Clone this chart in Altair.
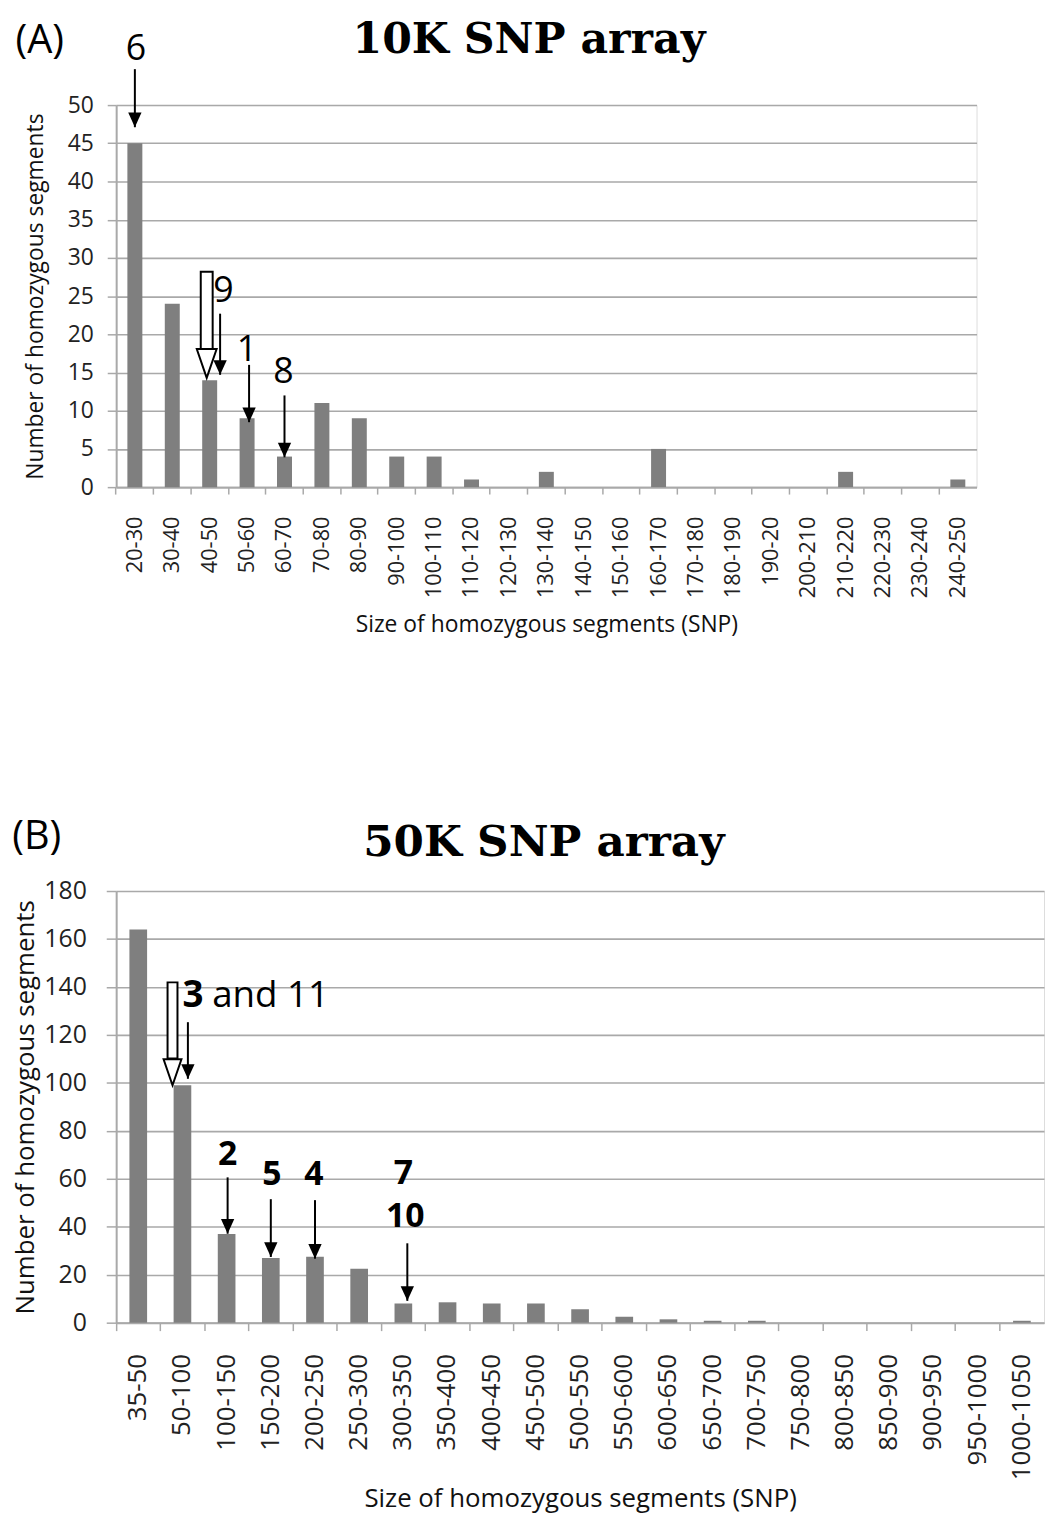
import altair as alt
import pandas as pd

# ---------------- data: panel A (10K SNP array) ----------------
a_cats = ["20-30", "30-40", "40-50", "50-60", "60-70", "70-80", "80-90", "90-100",
          "100-110", "110-120", "120-130", "130-140", "140-150", "150-160", "160-170",
          "170-180", "180-190", "190-20", "200-210", "210-220", "220-230", "230-240",
          "240-250"]
a_vals = [45, 24, 14, 9, 4, 11, 9, 4, 4, 1, 0, 2, 0, 0, 5, 0, 0, 0, 0, 2, 0, 0, 1]

# arrows (solid) : category, top value, tip value, pixel shift
a_arrow_cat = ["20-30", "40-50", "50-60", "60-70"]
a_arrow_top = [54.7, 22.7, 16.0, 12.0]
a_arrow_tip = [47.1, 14.7, 8.5, 3.9]
a_arrow_dx = [0, 10.5, 2, 0]
# hollow arrow
a_hollow_cat = ["40-50"]
a_hollow_top = [28.2]
a_hollow_base = [18.0]
a_hollow_tip = [14.3]
a_hollow_dx = -3
# labels
a_lab_text = ["6", "9", "1", "8"]
a_lab_cat = ["20-30", "40-50", "50-60", "60-70"]
a_lab_y = [57.3, 25.6, 18.0, 15.0]
a_lab_dx = [1, 14, 0, -1]

# ---------------- data: panel B (50K SNP array) ----------------
b_cats = ["35-50", "50-100", "100-150", "150-200", "200-250", "250-300", "300-350",
          "350-400", "400-450", "450-500", "500-550", "550-600", "600-650", "650-700",
          "700-750", "750-800", "800-850", "850-900", "900-950", "950-1000", "1000-1050"]
b_vals = [164, 99, 37, 27, 27.5, 22.5, 8, 8.5, 8, 8, 5.6, 2.5, 1.4, 0.8, 0.8,
          0, 0, 0, 0, 0, 0.8]

b_arrow_cat = ["50-100", "100-150", "150-200", "200-250", "300-350"]
b_arrow_top = [125.3, 60.6, 51.5, 51.1, 33.1]
b_arrow_tip = [101.7, 37.1, 27.4, 26.7, 9.1]
b_arrow_dx = [5.5, 1, 0, 0, 4]
b_hollow_cat = ["50-100"]
b_hollow_top = [141.9]
b_hollow_base = [110.2]
b_hollow_tip = [99.0]
b_hollow_dx = -10
b_lab_text = ["2", "5", "4", "7", "10"]
b_lab_cat = ["100-150", "150-200", "200-250", "300-350", "300-350"]
b_lab_y = [69.8, 61.4, 61.4, 62.0, 44.0]
b_lab_dx = [1, 1, -1, 0, 2]
b_combo_cat = ["50-100"]
b_combo_y = [136.1]

FONT = "Open Sans"
SERIF = "DejaVu Serif"
BAR = "#7f7f7f"
GRID = "#a9a9a9"
HEAD = "M-1,-2.2L1,-2.2L0,0Z"
HOLLOW_HEAD = "M-1,-2.9L1,-2.9L0,0Z"


def one(txt):
    return pd.DataFrame({"t": [txt]})


class Panel:
    def __init__(self, cats, ymax, ystep, fs_tick_x, fs_tick_y, fs_title,
                 ytitle_pad, xlab_pad, xtitle_pad, ylab_pad, ytick, xtick):
        self.xscale = alt.Scale(domain=cats, paddingInner=0, paddingOuter=0)
        self.yscale = alt.Scale(domain=[0, ymax], nice=False)
        self.xaxis = alt.Axis(title="Size of homozygous segments (SNP)", labelAngle=-90,
                              labelFontSize=fs_tick_x, titleFontSize=fs_title,
                              labelFont=FONT, titleFont=FONT, titleFontWeight="normal",
                              labelColor="#222", titleColor="#111",
                              bandPosition=0, tickSize=xtick, tickColor=GRID, tickWidth=1.5,
                              domainColor=GRID, domainWidth=2, labelPadding=xlab_pad,
                              titlePadding=xtitle_pad, labelOverlap=False, grid=False)
        self.yaxis = alt.Axis(title="Number of homozygous segments",
                              values=list(range(0, ymax + 1, ystep)),
                              labelFontSize=fs_tick_y, titleFontSize=fs_title,
                              labelFont=FONT, titleFont=FONT, titleFontWeight="normal",
                              labelColor="#222", titleColor="#111",
                              tickSize=ytick, tickColor=GRID, tickWidth=1.5,
                              domainColor=GRID, domainWidth=2, labelPadding=ylab_pad,
                              titlePadding=ytitle_pad, grid=True, gridColor=GRID,
                              gridWidth=1.6, labelOverlap=False)

    def X(self):
        return alt.X("cat:N", scale=self.xscale, axis=self.xaxis, title="Size of homozygous segments (SNP)")

    def Y(self):
        return alt.Y("v:Q", scale=self.yscale, axis=self.yaxis, title="Number of homozygous segments")

    def bars(self, cats, vals):
        return alt.Chart(pd.DataFrame({"cat": cats, "v": vals})).mark_bar(
            color=BAR, width=alt.RelativeBandSize(0.4)).encode(x=self.X(), y=self.Y())

    def arrows(self, cat_list, tops, tips, dxs, head_size):
        layers = []
        for c, t, p, d in zip(cat_list, tops, tips, dxs):
            shaft = alt.Chart(pd.DataFrame({"cat": [c], "v": [t], "v2": [p]})).mark_rule(
                color="black", strokeWidth=2, xOffset=d).encode(x=self.X(), y=self.Y(), y2="v2:Q")
            head = alt.Chart(pd.DataFrame({"cat": [c], "v": [p]})).mark_point(
                shape=HEAD, filled=True, size=head_size, color="black", opacity=1,
                xOffset=d).encode(x=self.X(), y=self.Y())
            layers += [shaft, head]
        return layers

    def hollow(self, cat_list, tops, bases, tips, dx, shaft_w, head_size):
        shaft = alt.Chart(pd.DataFrame({"cat": cat_list, "v": tops, "v2": bases})).mark_bar(
            width=shaft_w, fill="white", stroke="black", strokeWidth=2, xOffset=dx).encode(
            x=self.X(), y=self.Y(), y2="v2:Q")
        head = alt.Chart(pd.DataFrame({"cat": cat_list, "v": tips})).mark_point(
            shape=HOLLOW_HEAD, filled=True, fill="white", stroke="black", strokeWidth=2,
            size=head_size, opacity=1, xOffset=dx).encode(x=self.X(), y=self.Y())
        return [shaft, head]

    def labels(self, texts, cats, ys, dxs, size, weight, align="center"):
        layers = []
        for t, c, y, d in zip(texts, cats, ys, dxs):
            df = pd.DataFrame({"cat": [c], "v": [y], "t": [t]})
            layers.append(alt.Chart(df).mark_text(
                font=FONT, fontSize=size, fontWeight=weight, color="black", dx=d,
                align=align, baseline="middle").encode(x=self.X(), y=self.Y(), text="t:N"))
        return layers


def pixel_text(txt, x, y, font, size, weight):
    return alt.Chart(one(txt)).mark_text(
        font=font, fontSize=size, fontWeight=weight, color="black",
        baseline="alphabetic").encode(text="t:N", x=alt.value(x), y=alt.value(y))


# ---------------- panel A ----------------
WA, HA = 867, 385
pA = Panel(a_cats, 50, 5, 22, 23, 23,
           ytitle_pad=20, xlab_pad=22, xtitle_pad=16, ylab_pad=14, ytick=9, xtick=7)
layersA = ([pA.bars(a_cats, a_vals)]
           + pA.arrows(a_arrow_cat, a_arrow_top, a_arrow_tip, a_arrow_dx, 180)
           + pA.hollow(a_hollow_cat, a_hollow_top, a_hollow_base, a_hollow_tip, a_hollow_dx, 12, 400)
           + pA.labels(a_lab_text, a_lab_cat, a_lab_y, a_lab_dx, 36, "normal")
           + [pixel_text("10K SNP array", 416, -52, SERIF, 43, "bold"),
              pixel_text("(A)", -77, -52, FONT, 40, "normal")])
chartA = alt.layer(*layersA).properties(width=WA, height=HA)

# ---------------- panel B ----------------
WB, HB = 935, 435
pB = Panel(b_cats, 180, 20, 26, 25, 26,
           ytitle_pad=5, xlab_pad=23, xtitle_pad=6, ylab_pad=20, ytick=10, xtick=8)
layersB = ([pB.bars(b_cats, b_vals)]
           + pB.arrows(b_arrow_cat, b_arrow_top, b_arrow_tip, b_arrow_dx, 180)
           + pB.hollow(b_hollow_cat, b_hollow_top, b_hollow_base, b_hollow_tip, b_hollow_dx, 10, 324)
           + pB.labels(b_lab_text, b_lab_cat, b_lab_y, b_lab_dx, 34, "bold")
           + pB.labels(["3"], b_combo_cat, b_combo_y, [0], 37, "bold", align="left")
           + pB.labels(["and 11"], b_combo_cat, b_combo_y, [30], 37, "normal", align="left")
           + [pixel_text("50K SNP array", 431, -35, SERIF, 44, "bold"),
              pixel_text("(B)", -80, -42, FONT, 40, "normal")])
chartB = alt.layer(*layersB).properties(width=WB, height=HB)

chart = alt.vconcat(chartA, chartB, spacing=407, bounds="flush").properties(
    padding={"left": 3, "top": 5, "right": 0, "bottom": 0}
).configure_view(stroke=None).configure(background="white")

chart.save("out.html", embed_options={"renderer": "svg", "actions": False})
